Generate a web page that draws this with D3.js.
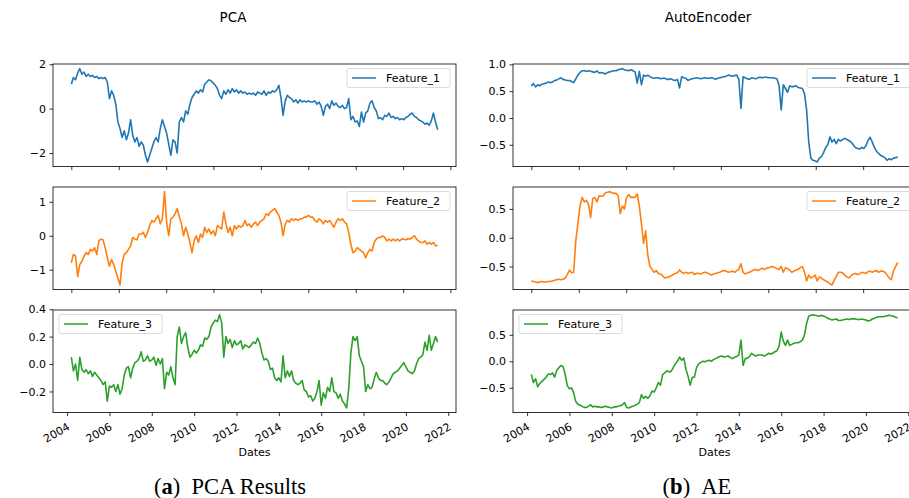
<!DOCTYPE html>
<html><head><meta charset="utf-8">
<script src="https://cdn.jsdelivr.net/npm/d3@7"></script>
<style>body{margin:0;background:#fff}svg{display:block}</style>
</head><body><svg id="c" width="909" height="498"></svg>
<script>
// sampling times (fractional years), one every 0.1 year
const sampleYears = d3.range(174).map(i => 2004.2 + i * 0.1);

const pcaF1 = [1.1,1.4,1.3,1.6,1.8,1.55,1.65,1.45,1.55,1.45,1.5,1.4,1.45,1.35,1.4,1.35,1.4,1.2,0.45,0.8,
0.6,0.2,-0.6,-0.9,-1.3,-1.0,-1.4,-1.1,-0.5,-1.2,-1.5,-1.3,-1.7,-1.5,-1.65,-2.1,-2.4,-2.1,-1.8,-1.5,
-1.3,-1.5,-0.9,-0.5,-0.8,-1.1,-1.6,-2.1,-1.4,-1.5,-2.0,-0.6,-0.4,-0.6,-0.1,-0.25,0.2,0.5,0.65,0.8,
0.7,0.85,0.75,1.1,1.2,1.3,1.25,1.15,1.05,0.9,0.6,0.45,0.8,0.65,0.85,0.7,0.9,0.75,0.85,0.7,
0.8,0.7,0.75,0.65,0.7,0.65,0.7,0.6,0.75,0.7,0.65,0.8,0.6,0.75,0.7,0.8,0.75,0.85,1.05,0.5,
-0.3,0.35,0.6,0.5,0.45,0.3,0.4,0.25,0.4,0.3,0.35,0.3,0.35,0.3,0.3,0.35,0.2,0.3,0.1,-0.3,
0.1,0.2,0.0,0.35,0.15,0.25,0.1,0.05,0.15,0.0,0.05,0.45,-0.5,-0.35,-0.6,-0.55,-0.8,-0.15,-0.6,-0.2,
-0.1,0.25,0.35,0.05,-0.1,-0.45,-0.4,-0.5,-0.3,-0.35,-0.2,-0.4,-0.35,-0.45,-0.4,-0.5,-0.45,-0.5,-0.4,-0.35,
-0.25,-0.2,-0.35,-0.4,-0.5,-0.55,-0.6,-0.7,-0.65,-0.75,-0.55,-0.2,-0.6,-0.95];

const pcaF2 = [-0.8,-0.55,-0.6,-1.2,-0.85,-0.75,-0.6,-0.5,-0.55,-0.4,-0.45,-0.35,-0.55,-0.15,-0.1,-0.12,-0.35,-0.65,-0.9,-0.7,
-0.85,-1.05,-1.25,-1.45,-0.8,-0.55,-0.5,-0.4,-0.3,-0.05,-0.1,-0.12,0.05,0.05,0.1,-0.05,0.1,0.3,0.45,0.4,
0.5,0.6,0.35,0.5,1.3,0.4,0.0,0.5,0.55,0.65,0.8,0.55,0.35,0.0,0.25,0.05,-0.2,-0.5,-0.15,0.0,
-0.2,0.05,-0.05,0.25,0.1,0.2,0.05,0.15,0.0,0.3,0.25,0.2,0.7,0.35,0.1,0.25,0.0,0.3,0.2,0.3,
0.25,0.3,0.45,0.3,0.35,0.25,0.35,0.4,0.3,0.4,0.45,0.5,0.65,0.6,0.7,0.75,0.8,0.7,0.6,0.4,
0.0,0.35,0.45,0.4,0.5,0.45,0.5,0.45,0.5,0.5,0.55,0.55,0.6,0.55,0.55,0.45,0.4,0.5,0.45,0.35,
0.45,0.4,0.45,0.35,0.25,0.4,0.5,0.45,0.5,0.4,0.35,0.1,-0.25,-0.5,-0.45,-0.35,-0.4,-0.45,-0.5,-0.65,
-0.5,-0.4,-0.45,-0.2,-0.1,-0.05,-0.05,0.0,-0.05,-0.15,-0.1,-0.15,-0.1,-0.15,-0.1,-0.15,-0.1,-0.1,-0.12,-0.08,
-0.1,-0.05,0.0,-0.1,-0.15,-0.2,-0.2,-0.15,-0.25,-0.2,-0.25,-0.2,-0.3,-0.28];

const pcaF3 = [0.05,-0.05,0.0,-0.12,0.05,-0.04,-0.06,-0.04,-0.07,-0.05,-0.09,-0.06,-0.08,-0.1,-0.12,-0.15,-0.13,-0.27,-0.16,-0.17,
-0.15,-0.2,-0.15,-0.22,-0.18,-0.08,-0.03,-0.02,-0.1,-0.03,0.01,0.02,0.04,0.09,0.02,0.03,0.06,0.02,0.03,0.05,
-0.01,0.04,0.0,0.04,-0.18,-0.06,-0.08,-0.02,-0.1,-0.15,0.2,0.27,0.15,0.2,0.23,0.12,0.05,0.07,0.1,0.08,
0.1,0.14,0.13,0.19,0.18,0.2,0.27,0.3,0.32,0.31,0.36,0.3,0.05,0.2,0.15,0.18,0.12,0.17,0.14,0.15,
0.17,0.11,0.14,0.13,0.12,0.14,0.16,0.15,0.19,0.15,0.08,0.03,0.04,0.02,-0.04,-0.03,-0.1,-0.12,-0.1,-0.13,
0.06,-0.1,-0.05,-0.09,-0.05,-0.12,-0.14,-0.15,-0.14,-0.12,-0.19,-0.2,-0.24,-0.23,-0.27,-0.25,-0.2,-0.12,-0.3,-0.21,
-0.25,-0.17,-0.2,-0.1,-0.2,-0.21,-0.25,-0.22,-0.27,-0.29,-0.32,-0.18,0.08,0.2,0.17,0.2,0.06,0.02,-0.02,-0.2,
-0.15,-0.18,-0.17,-0.11,-0.06,-0.1,-0.12,-0.12,-0.14,-0.15,-0.13,-0.1,-0.07,-0.06,-0.05,-0.03,-0.01,0.01,-0.02,-0.05,
-0.06,-0.07,-0.05,0.0,0.04,0.05,0.07,0.16,0.1,0.21,0.1,0.15,0.2,0.16];

const aeF1 = [0.6,0.64,0.58,0.62,0.6,0.63,0.64,0.65,0.67,0.66,0.67,0.7,0.71,0.73,0.75,0.72,0.71,0.7,0.7,0.68,
0.66,0.73,0.8,0.85,0.88,0.88,0.87,0.88,0.87,0.86,0.85,0.88,0.84,0.85,0.84,0.82,0.85,0.86,0.87,0.88,
0.88,0.9,0.91,0.92,0.9,0.89,0.88,0.9,0.88,0.86,0.65,0.87,0.62,0.8,0.78,0.8,0.77,0.75,0.74,0.75,
0.75,0.73,0.74,0.74,0.72,0.72,0.73,0.71,0.7,0.72,0.56,0.77,0.75,0.74,0.7,0.72,0.73,0.74,0.75,0.74,
0.73,0.74,0.75,0.74,0.74,0.75,0.74,0.72,0.74,0.75,0.76,0.77,0.78,0.8,0.79,0.78,0.79,0.8,0.72,0.18,
0.77,0.75,0.73,0.72,0.75,0.74,0.73,0.75,0.76,0.75,0.76,0.76,0.75,0.75,0.75,0.74,0.73,0.6,0.15,0.62,
0.55,0.48,0.6,0.58,0.59,0.6,0.57,0.56,0.55,0.45,0.15,-0.45,-0.75,-0.79,-0.8,-0.82,-0.75,-0.72,-0.65,-0.55,
-0.5,-0.35,-0.45,-0.4,-0.48,-0.4,-0.43,-0.4,-0.38,-0.4,-0.42,-0.45,-0.5,-0.55,-0.57,-0.58,-0.55,-0.57,-0.52,-0.42,
-0.36,-0.45,-0.55,-0.62,-0.66,-0.7,-0.72,-0.74,-0.79,-0.76,-0.78,-0.75,-0.74,-0.73];

const aeF2 = [-0.75,-0.76,-0.77,-0.78,-0.77,-0.76,-0.77,-0.77,-0.76,-0.76,-0.75,-0.74,-0.73,-0.72,-0.73,-0.72,-0.7,-0.64,-0.56,-0.61,
-0.6,-0.05,0.25,0.55,0.7,0.62,0.65,0.58,0.35,0.68,0.7,0.62,0.73,0.72,0.73,0.78,0.79,0.8,0.78,0.77,
0.77,0.73,0.42,0.55,0.5,0.7,0.75,0.7,0.7,0.7,0.76,0.55,0.25,-0.1,0.12,-0.3,-0.5,-0.55,-0.6,-0.57,
-0.62,-0.63,-0.66,-0.7,-0.69,-0.68,-0.66,-0.64,-0.62,-0.61,-0.56,-0.6,-0.62,-0.6,-0.62,-0.61,-0.6,-0.64,-0.62,-0.62,
-0.63,-0.61,-0.6,-0.61,-0.63,-0.65,-0.63,-0.62,-0.61,-0.6,-0.58,-0.57,-0.58,-0.6,-0.59,-0.58,-0.6,-0.57,-0.55,-0.45,
-0.6,-0.63,-0.61,-0.6,-0.58,-0.56,-0.55,-0.57,-0.55,-0.53,-0.55,-0.53,-0.52,-0.51,-0.5,-0.52,-0.54,-0.55,-0.5,-0.6,
-0.52,-0.54,-0.56,-0.6,-0.58,-0.56,-0.55,-0.52,-0.5,-0.6,-0.75,-0.65,-0.7,-0.68,-0.65,-0.75,-0.68,-0.7,-0.73,-0.75,
-0.77,-0.8,-0.82,-0.74,-0.67,-0.6,-0.6,-0.61,-0.65,-0.68,-0.7,-0.66,-0.63,-0.62,-0.64,-0.63,-0.6,-0.61,-0.62,-0.59,
-0.58,-0.6,-0.58,-0.57,-0.6,-0.58,-0.58,-0.6,-0.65,-0.7,-0.73,-0.58,-0.5,-0.43];

const aeF3 = [-0.25,-0.4,-0.33,-0.48,-0.42,-0.38,-0.34,-0.3,-0.24,-0.25,-0.22,-0.3,-0.17,-0.12,-0.08,-0.1,-0.25,-0.46,-0.52,-0.5,
-0.6,-0.76,-0.81,-0.83,-0.85,-0.87,-0.87,-0.85,-0.82,-0.86,-0.85,-0.86,-0.86,-0.87,-0.86,-0.85,-0.86,-0.87,-0.88,-0.86,
-0.86,-0.85,-0.84,-0.82,-0.78,-0.87,-0.88,-0.86,-0.85,-0.83,-0.81,-0.78,-0.63,-0.7,-0.66,-0.7,-0.65,-0.56,-0.58,-0.5,
-0.4,-0.45,-0.25,-0.22,-0.18,-0.2,-0.19,-0.12,-0.05,0.0,0.08,0.02,0.06,-0.15,-0.28,-0.45,-0.3,-0.3,-0.12,-0.05,
-0.02,0.0,-0.01,0.01,0.02,0.0,0.03,0.05,0.07,0.09,0.1,0.08,0.09,0.1,0.07,0.05,0.08,0.09,0.12,0.4,
-0.08,0.05,0.06,0.09,0.15,0.12,0.1,0.12,0.12,0.12,0.1,0.12,0.15,0.14,0.15,0.18,0.2,0.28,0.55,0.38,
0.3,0.4,0.3,0.32,0.34,0.35,0.35,0.37,0.4,0.5,0.72,0.85,0.87,0.88,0.87,0.86,0.85,0.87,0.85,0.84,
0.81,0.8,0.78,0.79,0.8,0.77,0.77,0.78,0.79,0.8,0.79,0.8,0.8,0.8,0.79,0.79,0.8,0.79,0.78,0.76,
0.77,0.8,0.81,0.83,0.84,0.84,0.84,0.85,0.86,0.87,0.86,0.85,0.83,0.82];

const featureNames = ["Feature_1", "Feature_2", "Feature_3"];
const featureColors = ["#1f77b4", "#ff7f0e", "#2ca02c"];
const columnTitles = ["PCA", "AutoEncoder"];
const xLabelYears = [2004, 2006, 2008, 2010, 2012, 2014, 2016, 2018, 2020, 2022];
const upperTickYears = [2004.2, 2006.44, 2008.68, 2010.91, 2013.15, 2015.39, 2017.63, 2019.87, 2022.1];
const pcaYTicks = [[-2, 0, 2], [-1, 0, 1], [-0.2, 0.0, 0.2, 0.4]];
const aeYTicks = [[-0.5, 0.0, 0.5, 1.0], [-0.5, 0.0, 0.5], [-0.5, 0.0, 0.5]];
const pcaYFormat = [d3.format("d"), d3.format("d"), d3.format(".1f")];
const aeYFormat = [d3.format(".1f"), d3.format(".1f"), d3.format(".1f")];
const captions = [["a", "PCA Results"], ["b", "AE"]];

const columns = [
  {series: [pcaF1, pcaF2, pcaF3], yTicks: pcaYTicks, yFmt: pcaYFormat},
  {series: [aeF1, aeF2, aeF3], yTicks: aeYTicks, yFmt: aeYFormat}
];

const svg = d3.select("#c");
const colLeft = [53, 513], axW = 403;
const rowTop = [64, 187, 310], axH = 102.6;
const titleX = [233, 708];
const captionX = [230, 697];
const FONT = "DejaVu Sans, sans-serif";

const t0 = d3.min(sampleYears), t1 = d3.max(sampleYears);
const xm = (t1 - t0) * 0.05;

columns.forEach((col, c) => {
  const left = colLeft[c];
  const x = d3.scaleLinear().domain([t0 - xm, t1 + xm]).range([left, left + axW]);
  col.series.forEach((vals, r) => {
    const top = rowTop[r];
    const [mn, mx] = d3.extent(vals);
    const ym = (mx - mn) * 0.05;
    const y = d3.scaleLinear().domain([mn - ym, mx + ym]).range([top + axH, top]);
    const g = svg.append("g");
    const line = d3.line().x((d, i) => x(sampleYears[i])).y(d => y(d));
    g.append("path").datum(vals).attr("d", line)
      .attr("fill", "none").attr("stroke", featureColors[r]).attr("stroke-width", 1.6)
      .attr("stroke-linejoin", "round");
    g.append("rect").attr("x", left).attr("y", top).attr("width", axW).attr("height", axH)
      .attr("fill", "none").attr("stroke", "#000").attr("stroke-width", 0.8);
    const ya = d3.axisLeft(y).tickValues(col.yTicks[r]).tickFormat(col.yFmt[r]).tickSize(3.5).tickPadding(3.5);
    const yg = g.append("g").attr("transform", `translate(${left},0)`).call(ya);
    yg.select(".domain").remove();
    yg.selectAll("line").attr("stroke", "#000").attr("stroke-width", 0.8);
    yg.selectAll("text").attr("font-family", FONT).attr("font-size", 11).attr("fill", "#000");
    const bottom = top + axH;
    if (r < 2) {
      const xa = d3.axisBottom(x).tickValues(upperTickYears).tickFormat("").tickSize(3.5);
      const xg = g.append("g").attr("transform", `translate(0,${bottom})`).call(xa);
      xg.select(".domain").remove();
      xg.selectAll("line").attr("stroke", "#000").attr("stroke-width", 0.8);
    } else {
      const xa = d3.axisBottom(x).tickValues(xLabelYears).tickFormat(d3.format("d")).tickSize(3.5);
      const xg = g.append("g").attr("transform", `translate(0,${bottom})`).call(xa);
      xg.select(".domain").remove();
      xg.selectAll("line").attr("stroke", "#000").attr("stroke-width", 0.8);
      xg.selectAll("text").attr("font-family", FONT).attr("font-size", 11).attr("fill", "#000")
        .attr("text-anchor", "end").attr("dy", null).attr("y", null)
        .attr("transform", "translate(3,16.5) rotate(-30)");
      g.append("text").attr("x", left + axW / 2).attr("y", bottom + 43)
        .attr("text-anchor", "middle").attr("font-family", FONT).attr("font-size", 11).text("Dates");
    }
    const lw = 103, lh = 19;
    const lx = r < 2 ? left + axW - 6 - lw : left + 6;
    const ly = top + 4.5;
    const lg = g.append("g").attr("transform", `translate(${lx},${ly})`);
    lg.append("rect").attr("width", lw).attr("height", lh).attr("rx", 2)
      .attr("fill", "#fff").attr("fill-opacity", 0.8).attr("stroke", "#d0d0d0").attr("stroke-width", 0.8);
    lg.append("line").attr("x1", 5).attr("x2", 29).attr("y1", lh / 2).attr("y2", lh / 2)
      .attr("stroke", featureColors[r]).attr("stroke-width", 1.5);
    lg.append("text").attr("x", 39).attr("y", lh / 2).attr("dy", "0.35em")
      .attr("font-family", FONT).attr("font-size", 11).attr("fill", "#000").text(featureNames[r]);
  });
  svg.append("text").attr("x", titleX[c]).attr("y", 22).attr("text-anchor", "middle")
    .attr("font-family", FONT).attr("font-size", 13.5).attr("fill", "#000").text(columnTitles[c]);
  const cap = svg.append("text").attr("x", captionX[c]).attr("y", 494).attr("text-anchor", "middle")
    .attr("font-family", "Liberation Serif, DejaVu Serif, serif").attr("font-size", 22.5).attr("fill", "#000");
  cap.append("tspan").text("(");
  cap.append("tspan").attr("font-weight", "bold").text(captions[c][0]);
  cap.append("tspan").text(")\u2002" + captions[c][1]);
});
</script></body></html>
